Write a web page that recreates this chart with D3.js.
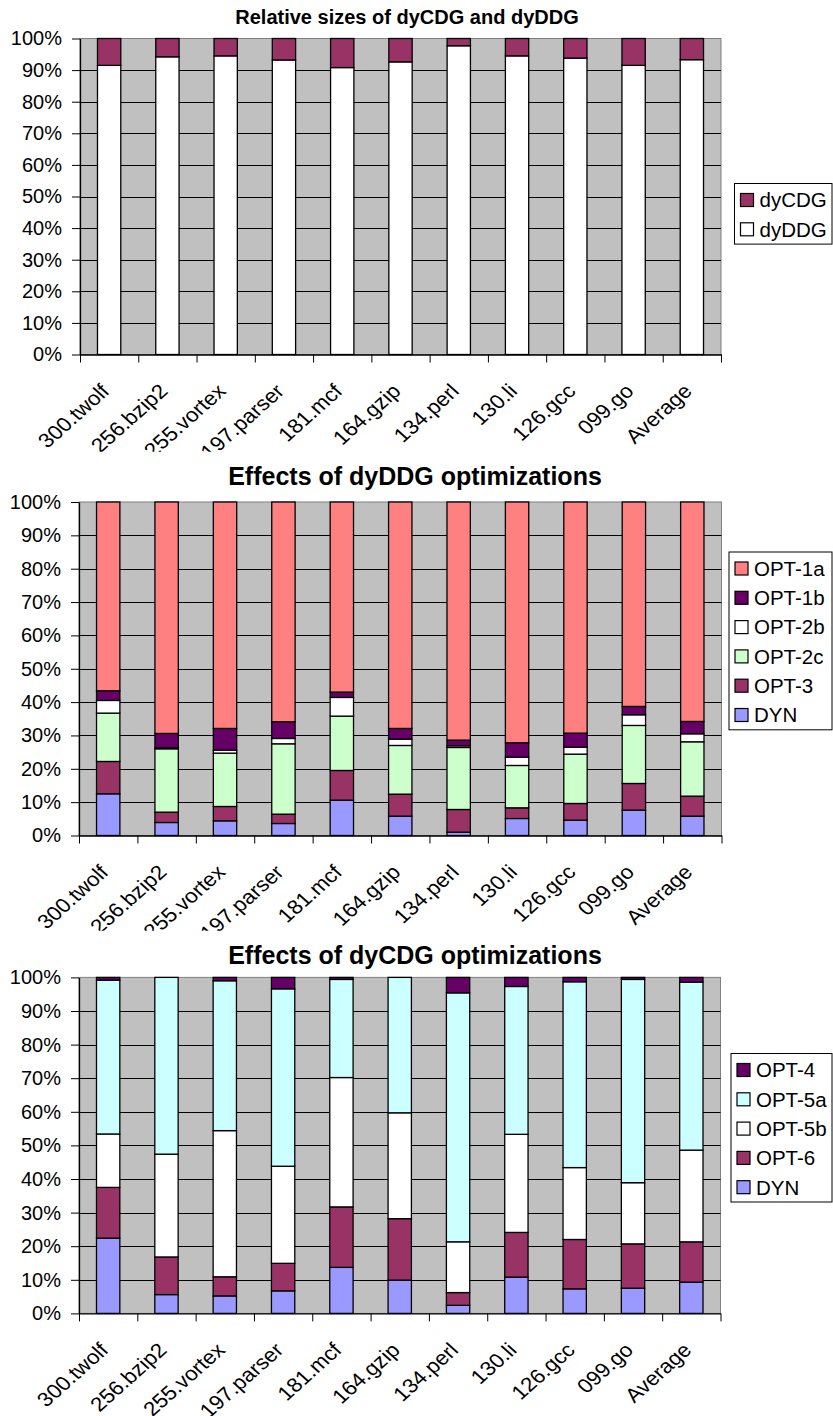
<!DOCTYPE html>
<html>
<head>
<meta charset="utf-8">
<script src="https://cdn.jsdelivr.net/npm/d3@7"></script>
<style>
  body { margin: 0; background: #fff; }
  svg { display: block; }
  text { font-family: Arial, "Liberation Sans", sans-serif; fill: #000; }
</style>
</head>
<body>
<svg id="chart" width="833" height="1416"></svg>
<script>
// ---- data -------------------------------------------------------------
const benchmarks = ["300.twolf", "256.bzip2", "255.vortex", "197.parser", "181.mcf",
                    "164.gzip", "134.perl", "130.li", "126.gcc", "099.go", "Average"];
const percentTicks = [0, 0.1, 0.2, 0.3, 0.4, 0.5, 0.6, 0.7, 0.8, 0.9, 1];
const tickLabels = ["0%", "10%", "20%", "30%", "40%", "50%", "60%", "70%", "80%", "90%", "100%"];

// Relative sizes of dyCDG and dyDDG (percent of total)
const sizeKeys = ["dyDDG", "dyCDG"];
const dyDDG = [91.5, 94.2, 94.5, 93.2, 90.8, 92.6, 97.7, 94.5, 93.8, 91.5, 93.3];
const dyCDG = [8.5, 5.8, 5.5, 6.8, 9.2, 7.4, 2.3, 5.5, 6.2, 8.5, 6.7];

// Effects of dyDDG optimizations (stacked bottom-up)
const ddgKeys = ["DYN", "OPT-3", "OPT-2c", "OPT-2b", "OPT-1b", "OPT-1a"];
const ddgDYN  = [12.5, 3.9, 4.4, 3.6, 10.6, 5.8, 1.0, 5.1, 4.6, 7.6, 5.8];
const ddgOpt3 = [9.7, 3.1, 4.3, 2.8, 8.9, 6.6, 6.8, 3.2, 5.0, 8.0, 6.0];
const ddgOpt2c = [14.5, 19.0, 16.0, 21.1, 16.3, 14.6, 18.6, 12.7, 14.8, 17.4, 16.3];
const ddgOpt2b = [3.8, 0.3, 0.9, 1.6, 5.6, 1.9, 0.5, 2.5, 2.1, 3.2, 2.4];
const ddgOpt1b = [2.9, 4.3, 6.5, 5.0, 1.6, 3.2, 1.7, 4.3, 4.2, 2.5, 3.7];
const ddgOpt1a = [56.6, 69.4, 67.9, 65.9, 57.0, 67.9, 71.4, 72.2, 69.3, 61.3, 65.8];

// Effects of dyCDG optimizations (stacked bottom-up)
const cdgKeys = ["DYN", "OPT-6", "OPT-5b", "OPT-5a", "OPT-4"];
const cdgDYN  = [22.4, 5.6, 5.2, 6.7, 13.7, 9.9, 2.4, 10.8, 7.3, 7.5, 9.3];
const cdgOpt6 = [15.1, 11.2, 5.7, 8.2, 18.0, 18.3, 3.8, 13.3, 14.7, 13.2, 12.0];
const cdgOpt5b = [15.9, 30.6, 43.5, 28.9, 38.5, 31.5, 15.1, 29.2, 21.4, 18.2, 27.3];
const cdgOpt5a = [45.8, 52.6, 44.6, 52.8, 29.2, 40.3, 74.1, 44.0, 55.3, 60.5, 50.0];
const cdgOpt4 = [0.8, 0.0, 1.0, 3.4, 0.6, 0.0, 4.6, 2.7, 1.3, 0.6, 1.4];

// ---- styling ------------------------------------------------------------
const colors = {
  "dyCDG": "#993366", "dyDDG": "#FFFFFF",
  "OPT-1a": "#FF8080", "OPT-1b": "#660066", "OPT-2b": "#FFFFFF", "OPT-2c": "#CCFFCC",
  "OPT-3": "#993366", "DYN": "#9999FF",
  "OPT-4": "#660066", "OPT-5a": "#CCFFFF", "OPT-5b": "#FFFFFF", "OPT-6": "#993366"
};

function rows(keys, arrays) {
  return benchmarks.map((b, i) => {
    const r = { name: b };
    keys.forEach((k, j) => { r[k] = arrays[j][i]; });
    return r;
  });
}

const svg = d3.select("#chart");
svg.append("rect").attr("width", 833).attr("height", 1416).attr("fill", "#fff");

function drawChart(cfg) {
  const g = svg.append("g");
  const x = d3.scaleBand().domain(benchmarks).range([cfg.left, cfg.right])
    .paddingInner(0.6).paddingOuter(0.3);
  const xEdge = d3.scaleLinear().domain([0, benchmarks.length]).range([cfg.left, cfg.right]);
  const y = d3.scaleLinear().domain([0, 1]).range([cfg.bottom, cfg.top]);

  // title
  g.append("text")
    .attr("x", cfg.titleX).attr("y", cfg.titleY)
    .attr("text-anchor", "middle")
    .style("font-weight", "bold").style("font-size", cfg.titleSize + "px")
    .text(cfg.title);

  // plot area
  g.append("rect")
    .attr("x", cfg.left).attr("y", cfg.top)
    .attr("width", cfg.right - cfg.left).attr("height", cfg.bottom - cfg.top)
    .attr("fill", "#C0C0C0").attr("stroke", "#808080").attr("stroke-width", 1);

  g.append("g").selectAll("line")
    .data(percentTicks.filter(t => t > 0 && t < 1))
    .join("line")
    .attr("x1", cfg.left).attr("x2", cfg.right)
    .attr("y1", d => Math.round(y(d)) + 0.5).attr("y2", d => Math.round(y(d)) + 0.5)
    .attr("stroke", "#000").attr("stroke-width", 1);

  // stacked 100% bars
  const stacked = d3.stack().keys(cfg.keys).offset(d3.stackOffsetExpand)(cfg.data);
  g.append("g").selectAll("g")
    .data(stacked)
    .join("g")
    .attr("fill", d => colors[d.key])
    .selectAll("rect")
    .data(d => d)
    .join("rect")
    .attr("x", d => x(d.data.name))
    .attr("width", x.bandwidth())
    .attr("y", d => y(d[1]))
    .attr("height", d => y(d[0]) - y(d[1]))
    .attr("stroke", "#000").attr("stroke-width", 1.3);

  // y axis
  const ya = g.append("g")
    .attr("transform", `translate(${cfg.left},0)`)
    .call(d3.axisLeft(y).tickValues(percentTicks)
      .tickFormat((d, i) => tickLabels[i]).tickSize(8).tickPadding(10).tickSizeOuter(0));
  ya.select(".domain").attr("stroke", "#000").attr("stroke-width", 1.3);
  ya.selectAll(".tick line").attr("stroke", "#000");
  ya.selectAll("text").style("font-size", "20px").attr("font-family", null);

  // x axis (ticks at category boundaries)
  const xa = g.append("g")
    .attr("transform", `translate(0,${cfg.bottom})`)
    .call(d3.axisBottom(xEdge).tickValues(d3.range(benchmarks.length + 1))
      .tickFormat("").tickSize(8).tickSizeOuter(0));
  xa.select(".domain").attr("stroke", "#000").attr("stroke-width", 1.3);
  xa.selectAll(".tick line").attr("stroke", "#000");

  // rotated category labels (clipped where the next chart begins)
  const clipId = "clip-" + cfg.id;
  svg.append("clipPath").attr("id", clipId)
    .append("rect").attr("x", 0).attr("y", cfg.bottom).attr("width", 833)
    .attr("height", cfg.labelClip - cfg.bottom);
  g.append("g").attr("clip-path", `url(#${clipId})`)
    .selectAll("text")
    .data(benchmarks)
    .join("text")
    .attr("transform", d =>
      `translate(${x(d) + x.bandwidth() / 2 - 4},${cfg.bottom + 33}) scale(1.12,1) rotate(-45)`)
    .attr("text-anchor", "end")
    .attr("dy", "0.35em")
    .style("font-size", "20px")
    .text(d => d);

  // legend (top entry = top of stack)
  const legendKeys = cfg.keys.slice().reverse();
  const step = 29.3;
  const lg = g.append("g");
  lg.append("rect")
    .attr("x", cfg.legendX).attr("y", cfg.legendY)
    .attr("width", 832 - cfg.legendX).attr("height", legendKeys.length * step + 2)
    .attr("fill", "#fff").attr("stroke", "#000").attr("stroke-width", 1);
  const items = lg.selectAll("g.item")
    .data(legendKeys)
    .join("g")
    .attr("class", "item")
    .attr("transform", (d, i) => `translate(${cfg.legendX + 6},${cfg.legendY + 16.5 + i * step})`);
  items.append("rect")
    .attr("x", 0).attr("y", -6.5).attr("width", 13).attr("height", 13)
    .attr("fill", d => colors[d]).attr("stroke", "#000").attr("stroke-width", 1.2);
  items.append("text")
    .attr("x", 19).attr("dy", "0.36em")
    .style("font-size", "20.5px")
    .text(d => d);
}

drawChart({
  id: "sizes", title: "Relative sizes of dyCDG and dyDDG", titleX: 407, titleY: 24, titleSize: 20,
  left: 80, right: 721, top: 38.5, bottom: 354.5, labelClip: 451.7,
  keys: sizeKeys, data: rows(sizeKeys, [dyDDG, dyCDG]),
  legendX: 734.5, legendY: 183.5
});

drawChart({
  id: "ddg", title: "Effects of dyDDG optimizations", titleX: 415, titleY: 485, titleSize: 25,
  left: 79, right: 721.5, top: 502, bottom: 835.5, labelClip: 930.7,
  keys: ddgKeys, data: rows(ddgKeys, [ddgDYN, ddgOpt3, ddgOpt2c, ddgOpt2b, ddgOpt1b, ddgOpt1a]),
  legendX: 729, legendY: 552
});

drawChart({
  id: "cdg", title: "Effects of dyCDG optimizations", titleX: 415, titleY: 964, titleSize: 25,
  left: 79, right: 720.5, top: 977.4, bottom: 1313.4, labelClip: 1416,
  keys: cdgKeys, data: rows(cdgKeys, [cdgDYN, cdgOpt6, cdgOpt5b, cdgOpt5a, cdgOpt4]),
  legendX: 731, legendY: 1053.5
});
</script>
</body>
</html>
